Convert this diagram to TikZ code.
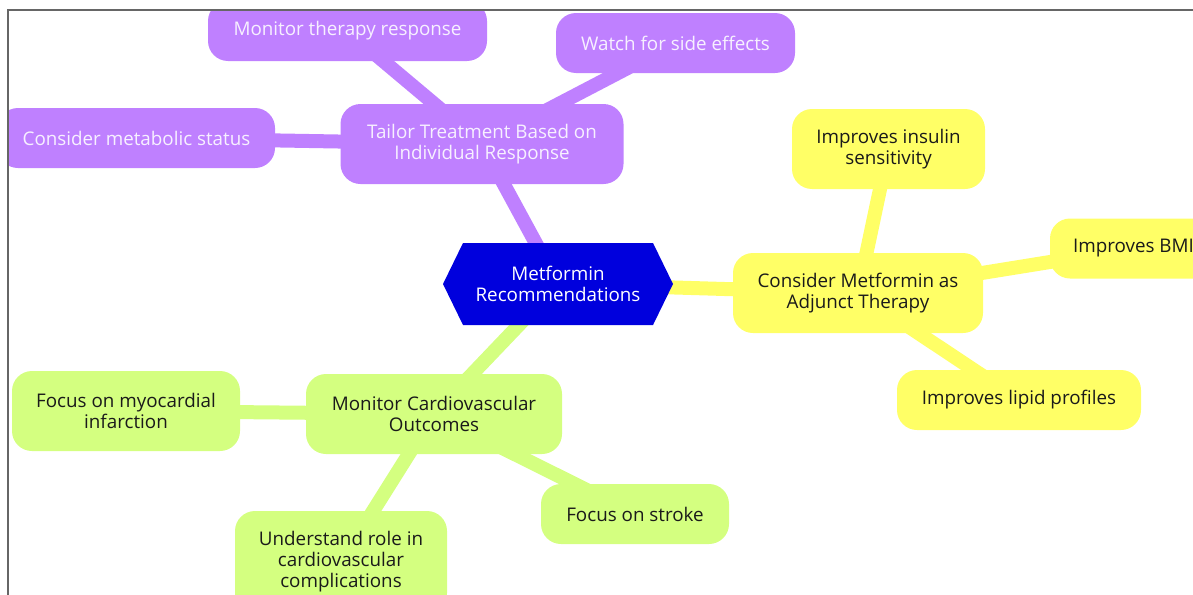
\documentclass[tikz,border=0pt]{standalone}
\usepackage{fontspec}
\setmainfont{Open Sans}
\usepackage{xcolor}
\usepackage{tikz}
\usetikzlibrary{shapes.symbols}
\pgfdeclarelayer{background}
\pgfdeclarelayer{foreground}
\pgfsetlayers{background,main,foreground}

\definecolor{hubblue}{HTML}{0000DD}
\definecolor{purplebr}{HTML}{BF80FF}
\definecolor{yellowbr}{HTML}{FFFF66}
\definecolor{greenbr}{HTML}{D4FF80}
\definecolor{leaftext}{HTML}{1A1A1A}
\definecolor{lighttext}{HTML}{F7F0FF}

\tikzset{
  hub/.style={signal, signal to=east and west, signal pointer angle=128,
    fill=hubblue, text=white, align=center, inner sep=0pt,
    minimum width=115pt, minimum height=41pt},
  bubble/.style={fill=#1, rounded corners=10pt, align=center, inner sep=0pt},
  link/.style={#1, line width=7pt},
  txt/.style={font=\fontsize{9.4}{10.5}\selectfont}
}

\begin{document}
\begin{tikzpicture}[x=0.5pt, y=-0.5pt, txt]

\useasboundingbox (0,0) rectangle (1193,594);

% CENTRE
  \node[hub] (hub) at (558,284) {Metformin\\Recommendations};

% Tailor treatment branch
  \node[bubble=purplebr, text=lighttext, minimum width=141.5pt, minimum height=40pt] (tailor) at (482,144) {Tailor Treatment Based on\\Individual Response};
  \node[bubble=purplebr, text=lighttext, minimum width=139.5pt, minimum height=30pt] (therapy) at (347.5,31) {Monitor therapy response};
  \node[bubble=purplebr, text=lighttext, minimum width=119.5pt, minimum height=30pt] (sidefx) at (675.5,43) {Watch for side effects};
  \node[bubble=purplebr, text=lighttext, minimum width=138.5pt, minimum height=30pt] (metabolic) at (136.5,138) {Consider metabolic status};

% Adjunct therapy branch
  \node[bubble=yellowbr, text=leaftext, minimum width=125pt, minimum height=40pt] (adjunct) at (858,293) {Consider Metformin as\\Adjunct Therapy};
  \node[bubble=yellowbr, text=leaftext, minimum width=96.5pt, minimum height=40pt] (insulin) at (888.5,149) {Improves insulin\\sensitivity};
  \node[bubble=yellowbr, text=leaftext, minimum width=83.5pt, minimum height=30pt] (bmi) at (1133.5,248.5) {Improves BMI};
  \node[bubble=yellowbr, text=leaftext, minimum width=122pt, minimum height=30pt] (lipid) at (1019,400) {Improves lipid profiles};

% Cardiovascular branch
  \node[bubble=greenbr, text=leaftext, minimum width=128pt, minimum height=40pt] (cardio) at (434,414) {Monitor Cardiovascular\\Outcomes};
  \node[bubble=greenbr, text=leaftext, minimum width=114pt, minimum height=40pt] (myo) at (126,411) {Focus on myocardial\\infarction};
  \node[bubble=greenbr, text=leaftext, minimum width=106pt, minimum height=51pt] (role) at (341,562) {Understand role in\\cardiovascular\\complications};
  \node[bubble=greenbr, text=leaftext, minimum width=94pt, minimum height=30pt] (stroke) at (635,514) {Focus on stroke};

% links
\begin{pgfonlayer}{background}
  \draw[link=purplebr] (hub.center) -- (tailor.center);
  \draw[link=purplebr] (tailor.center) -- (therapy.center);
  \draw[link=purplebr] (tailor.center) -- (sidefx.center);
  \draw[link=purplebr] (tailor.center) -- (metabolic.center);
  \draw[link=yellowbr] (hub.center) -- (adjunct.center);
  \draw[link=yellowbr] (adjunct.center) -- (insulin.center);
  \draw[link=yellowbr] (adjunct.center) -- (bmi.center);
  \draw[link=yellowbr] (adjunct.center) -- (lipid.center);
  \draw[link=greenbr] (hub.center) -- (cardio.center);
  \draw[link=greenbr] (cardio.center) -- (myo.center);
  \draw[link=greenbr] (cardio.center) -- (role.center);
  \draw[link=greenbr] (cardio.center) -- (stroke.center);
\end{pgfonlayer}

% FRAME
\begin{pgfonlayer}{foreground}
  \fill[white] (-20,-20) rectangle (1220,10);
  \fill[white] (-20,-20) rectangle (8,620);
  \draw[gray!80!black, line width=0.8pt] (8,620) -- (8,10) -- (1220,10);
\end{pgfonlayer}
\end{tikzpicture}
\end{document}
